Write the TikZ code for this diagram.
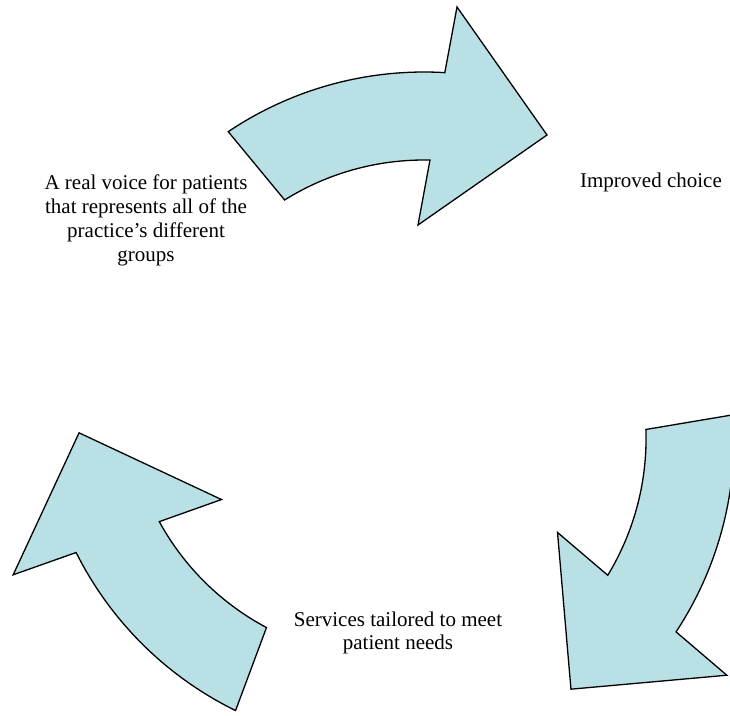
\documentclass[tikz,border=0pt]{standalone}
\usepackage{fontspec}
\setmainfont{Liberation Serif}
\begin{document}
\begin{tikzpicture}[x=1pt,y=1pt,
  cyclearrow/.style={fill=arrowfill, draw=black, line width=1.3pt, line join=miter},
  steplabel/.style={align=center, font=\fontsize{21}{23.8}\selectfont, inner sep=0pt}]
\definecolor{arrowfill}{RGB}{185,224,228}
\useasboundingbox (0,0) rectangle (730,715);
\clip (0,0) rectangle (730,715);
\coordinate (C) at (399,296);
\foreach \r in {0,-120,-240} {
  \begin{scope}[rotate around={\r:(C)}]
    \begin{scope}[shift={(424,292)}]
      \draw[cyclearrow] (123.9:351) arc[start angle=123.9, end angle=86.6, radius=351]
        -- (33,416) -- (123,288) -- (-6,198) -- (88.7:263)
        arc[start angle=88.7, end angle=122, radius=263] -- cycle;
    \end{scope}
  \end{scope}
}
\node[steplabel] (voice) at (146,494.5) {A real voice for patients\\that represents all of the\\practice’s different\\groups};
\node[steplabel] (choice) at (651,533) {Improved choice};
\node[steplabel] (services) at (398,82) {Services tailored to meet\\patient needs};
\end{tikzpicture}
\end{document}
